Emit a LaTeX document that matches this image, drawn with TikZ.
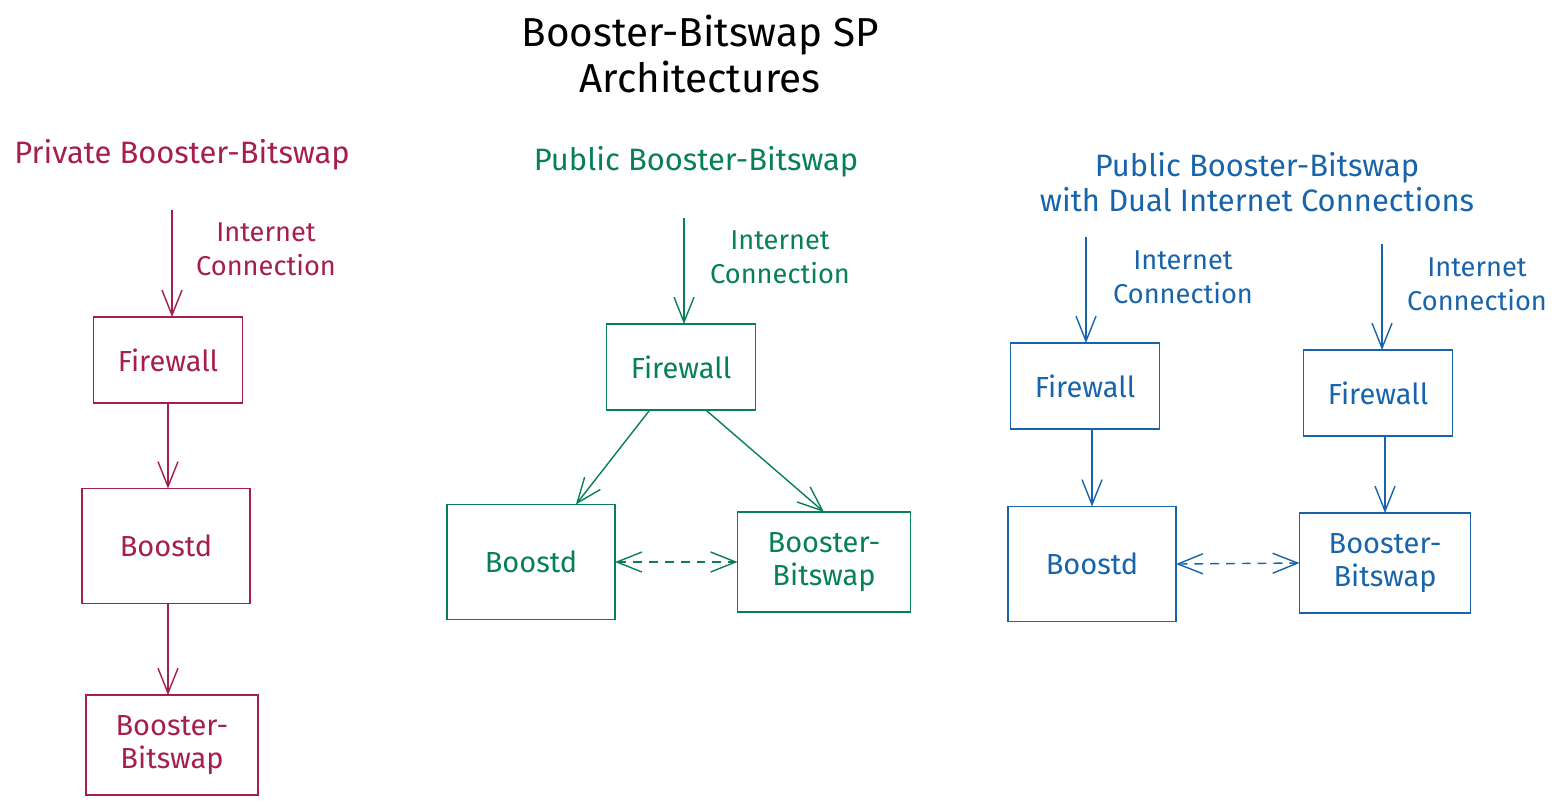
\documentclass[tikz,border=0pt]{standalone}
\usepackage{fontspec}
\setmainfont{Fira Sans}
\usetikzlibrary{arrows.meta}
\definecolor{privred}{HTML}{A61E4D}
\definecolor{pubgreen}{HTML}{087F5B}
\definecolor{dualblue}{HTML}{1864AB}
\begin{document}
\begin{tikzpicture}[x=0.02cm,y=-0.02cm,
	every node/.style={font=\fontsize{16.5}{19}\selectfont},
	box/.style={draw,line width=0.9pt,inner sep=0pt,outer sep=0pt,align=center},
	fwbox/.style={box,minimum width=2.98cm,minimum height=1.72cm},
	bdbox/.style={box,minimum width=3.36cm,minimum height=2.3cm},
	bbbox/.style={box,minimum width=3.44cm,minimum height=2cm},
	link/.style={line width=0.8pt,-{Straight Barb[length=5mm,width=4mm]}},
	both/.style={line width=0.8pt,dash pattern=on 5pt off 4pt,{Straight Barb[length=5mm,width=4mm]}-{Straight Barb[length=5mm,width=4mm]}},
	head/.style={align=center,font=\fontsize{17.6}{19.5}\selectfont},
	lbl/.style={align=center,font=\fontsize{15.5}{19.5}\selectfont}]
	\useasboundingbox (0,0) rectangle (1557,805);
	% title
	\node[align=center,font=\fontsize{23}{26}\selectfont] (title) at (700,54) {Booster-Bitswap SP\\Architectures};
	% private
	\begin{scope}[color=privred]
		\node[head] (privT) at (182,155) {Private Booster-Bitswap};
		\coordinate (privIn) at (172,210);
		\node[lbl] (privNet) at (266,249) {Internet\\Connection};
		\node[fwbox] (privFw) at (168,360) {Firewall};
		\node[bdbox] (privBd) at (166,546) {Boostd};
		\node[bbbox] (privBb) at (172,745) {Booster-\\Bitswap};
		\draw[link] (privIn) -- (privIn |- privFw.north);
		\draw[link] (privFw.south) -- (privFw.south |- privBd.north);
		\draw[link] (privFw.south |- privBd.south) -- (privFw.south |- privBb.north);
	\end{scope}
	% public
	\begin{scope}[color=pubgreen]
		\node[head] (pubT) at (696,162) {Public Booster-Bitswap};
		\coordinate (pubIn) at (684,218);
		\node[lbl] (pubNet) at (780,257) {Internet\\Connection};
		\node[fwbox] (pubFw) at (681,367) {Firewall};
		\node[bdbox] (pubBd) at (531,562) {Boostd};
		\node[bbbox,minimum width=3.46cm] (pubBb) at (824,562) {Booster-\\Bitswap};
		\draw[link] (pubIn) -- (pubIn |- pubFw.north);
		\draw[link] (pubFw.234) -- (pubBd.52);
		\draw[link] (pubFw.300) -- (pubBb.north);
		\draw[both] (pubBd.east) -- (pubBb.west);
	\end{scope}
	% dual
	\begin{scope}[color=dualblue]
		\node[head] (dualT) at (1257,182) {Public Booster-Bitswap\\with Dual Internet Connections};
		\coordinate (dualInA) at (1086,237);
		\coordinate (dualInB) at (1382,244);
		\node[lbl] (dualNetA) at (1183,277) {Internet\\Connection};
		\node[lbl] (dualNetB) at (1477,284) {Internet\\Connection};
		\node[fwbox] (dualFwA) at (1085,386) {Firewall};
		\node[fwbox] (dualFwB) at (1378,393) {Firewall};
		\node[bdbox] (dualBd) at (1092,564) {Boostd};
		\node[bbbox,minimum width=3.42cm] (dualBb) at (1385,563) {Booster-\\Bitswap};
		\draw[link] (dualInA) -- (dualInA |- dualFwA.north);
		\draw[link] (dualInB) -- (dualInB |- dualFwB.north);
		\draw[link] (dualBd.north |- dualFwA.south) -- (dualBd.north);
		\draw[link] (dualBb.north |- dualFwB.south) -- (dualBb.north);
		\draw[both] (dualBd.east) -- (dualBb.west);
	\end{scope}
\end{tikzpicture}
\end{document}
